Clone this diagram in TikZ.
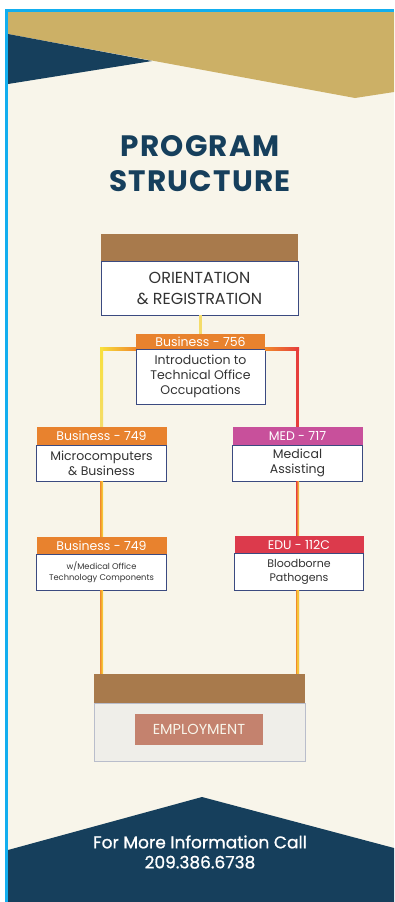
\documentclass[tikz,border=0pt]{standalone}
\usepackage{fontspec}
\setmainfont{Poppins}
\newfontfamily\titlefont[LetterSpace=4]{Poppins}
\newfontfamily\footfont[FakeBold=0.9]{Poppins}
\usetikzlibrary{calc}
\definecolor{cream}{HTML}{F8F5EA}
\definecolor{gold}{HTML}{CCB066}
\definecolor{navy}{HTML}{163F5C}
\definecolor{cyanB}{HTML}{12AEEF}
\definecolor{brownH}{HTML}{A87A4C}
\definecolor{orangeH}{HTML}{E8822E}
\definecolor{magH}{HTML}{C8509B}
\definecolor{redH}{HTML}{DC3A4C}
\definecolor{boxline}{HTML}{3B4A80}
\definecolor{txt}{HTML}{333333}
\definecolor{empbody}{HTML}{EFEEE9}
\definecolor{empline}{HTML}{B9BDCB}
\definecolor{salmon}{HTML}{C4826E}
\definecolor{paleY}{HTML}{F4DC6A}
\definecolor{brightY}{HTML}{F8E03C}
\definecolor{lineO}{HTML}{F08A2C}
\definecolor{lineR}{HTML}{E63E3C}
\tikzset{
  hdr/.style={minimum width=#1, minimum height=17, inner sep=0, text=white,
    font=\fontsize{12.5}{14}\selectfont},
  bodybox/.style={minimum width=#1, fill=white, draw=boxline, line width=0.7,
    inner sep=0, text=txt, align=center, font=\fontsize{12.5}{15}\selectfont},
  titletext/.style={text=navy, font=\titlefont\bfseries\fontsize{29.5}{32}\selectfont},
}
\begin{document}
\begin{tikzpicture}[x=1pt,y=-1pt]
\useasboundingbox (0,0) rectangle (394,902);
\fill[white] (0,0) rectangle (394,902);
\fill[cream] (8,12) rectangle (394,902);
% top bands
\fill[gold] (8,12) -- (394,12) -- (394,92) -- (355,98) -- (8,34) -- cycle;
\fill[navy] (8,34) -- (152,61) -- (8,84) -- cycle;
% bottom band
\fill[navy] (8,850) -- (202,797) -- (394,848) -- (394,902) -- (8,902) -- cycle;
% blue frame
\fill[cyanB] (5,9) rectangle (394,12);
\fill[cyanB] (5,9) rectangle (8,902);
% title
\node[titletext] (t1) at (200,146) {PROGRAM};
\node[titletext] (t2) at (200,181) {STRUCTURE};
% orientation
\node[fill=brownH, minimum width=197, minimum height=27, inner sep=0] (orh) at (199.5,247.5) {};
\node[bodybox=197, minimum height=54, font=\fontsize{16}{21}\selectfont] (orb) at (199.5,288) {ORIENTATION\\\& REGISTRATION};
% Business 756
\node[hdr=129, minimum height=15, fill=orangeH] (b756h) at (200.5,341.5) {Business - 756};
\node[bodybox=129, minimum height=55] (b756b) at (200.5,376.5) {Introduction to\\Technical Office\\Occupations};
% Business 749 a
\node[hdr=130, minimum height=18, fill=orangeH] (b749ah) at (101.5,436) {Business - 749};
\node[bodybox=130, minimum height=36] (b749ab) at (101.5,463) {Microcomputers\\\& Business};
% Business 749 b
\node[hdr=130, minimum height=17, fill=orangeH] (b749bh) at (101.5,545.5) {Business - 749};
\node[bodybox=130, minimum height=36, font=\fontsize{8.3}{11}\selectfont] (b749bb) at (101.5,572) {w/Medical Office\\Technology Components};
% MED 717
\node[hdr=130, minimum height=18, fill=magH] (medh) at (297.5,436) {MED - 717};
\node[bodybox=130, minimum height=36] (medb) at (297.5,463) {Medical\\Assisting};
% EDU 112C
\node[hdr=129, minimum height=17, fill=redH] (eduh) at (299,544.5) {EDU - 112C};
\node[bodybox=129, minimum height=37, font=\fontsize{11}{14}\selectfont] (edub) at (299,571.5) {Bloodborne\\Pathogens};
% Employment
\node[fill=brownH, minimum width=211, minimum height=29, inner sep=0] (emph) at (199.5,688.5) {};
\node[fill=empbody, draw=empline, line width=0.7, minimum width=211, minimum height=58, inner sep=0] (empb) at (199.5,732) {};
\node[fill=salmon, minimum width=128, minimum height=31, inner sep=0, text=cream, font=\fontsize{14.5}{16}\selectfont] (empbtn) at (199,729.5) {EMPLOYMENT};
% connectors
\coordinate (cl) at (b749ah.north |- b756h.south);
\coordinate (cr) at (medh.north |- b756h.south);
\fill[paleY] ($(orb.south)+(-1,0)$) rectangle ($(b756h.north)+(1,0)$);
\shade[left color=brightY, right color=lineO] ($(cl)+(-1.5,-1.5)$) rectangle ($(b756h.south west)+(0,1.5)$);
\shade[left color=lineO, right color=lineR] ($(b756h.south east)+(0,-1.5)$) rectangle ($(cr)+(1.5,1.5)$);
\shade[top color=brightY, bottom color=paleY] ($(cl)+(-1.5,-1.5)$) rectangle ($(b749ah.north)+(1.5,0)$);
\shade[left color=lineO, right color=brightY] ($(b749ab.south)+(-1.5,0)$) rectangle ($(b749bh.north)+(1.5,0)$);
\shade[left color=lineO, right color=brightY] ($(b749bb.south)+(-1.5,0)$) rectangle ($(b749bb.south |- emph.north)+(1.5,0)$);
\fill[lineR] ($(cr)+(-1.5,-1.5)$) rectangle ($(medh.north)+(1.5,0)$);
\shade[left color=lineR, right color=brightY] ($(medb.south)+(-1.5,0)$) rectangle ($(medb.south |- eduh.north)+(1.5,0)$);
\shade[left color=lineO, right color=lineO, middle color=brightY] ($(medb.south |- edub.south)+(-1.5,0)$) rectangle ($(medb.south |- emph.north)+(1.5,0)$);
% footer text
\node[text=white, align=center, font=\footfont\fontsize{17}{20}\selectfont] (info) at (200,852) {For More Information Call\\209.386.6738};
\end{tikzpicture}
\end{document}
